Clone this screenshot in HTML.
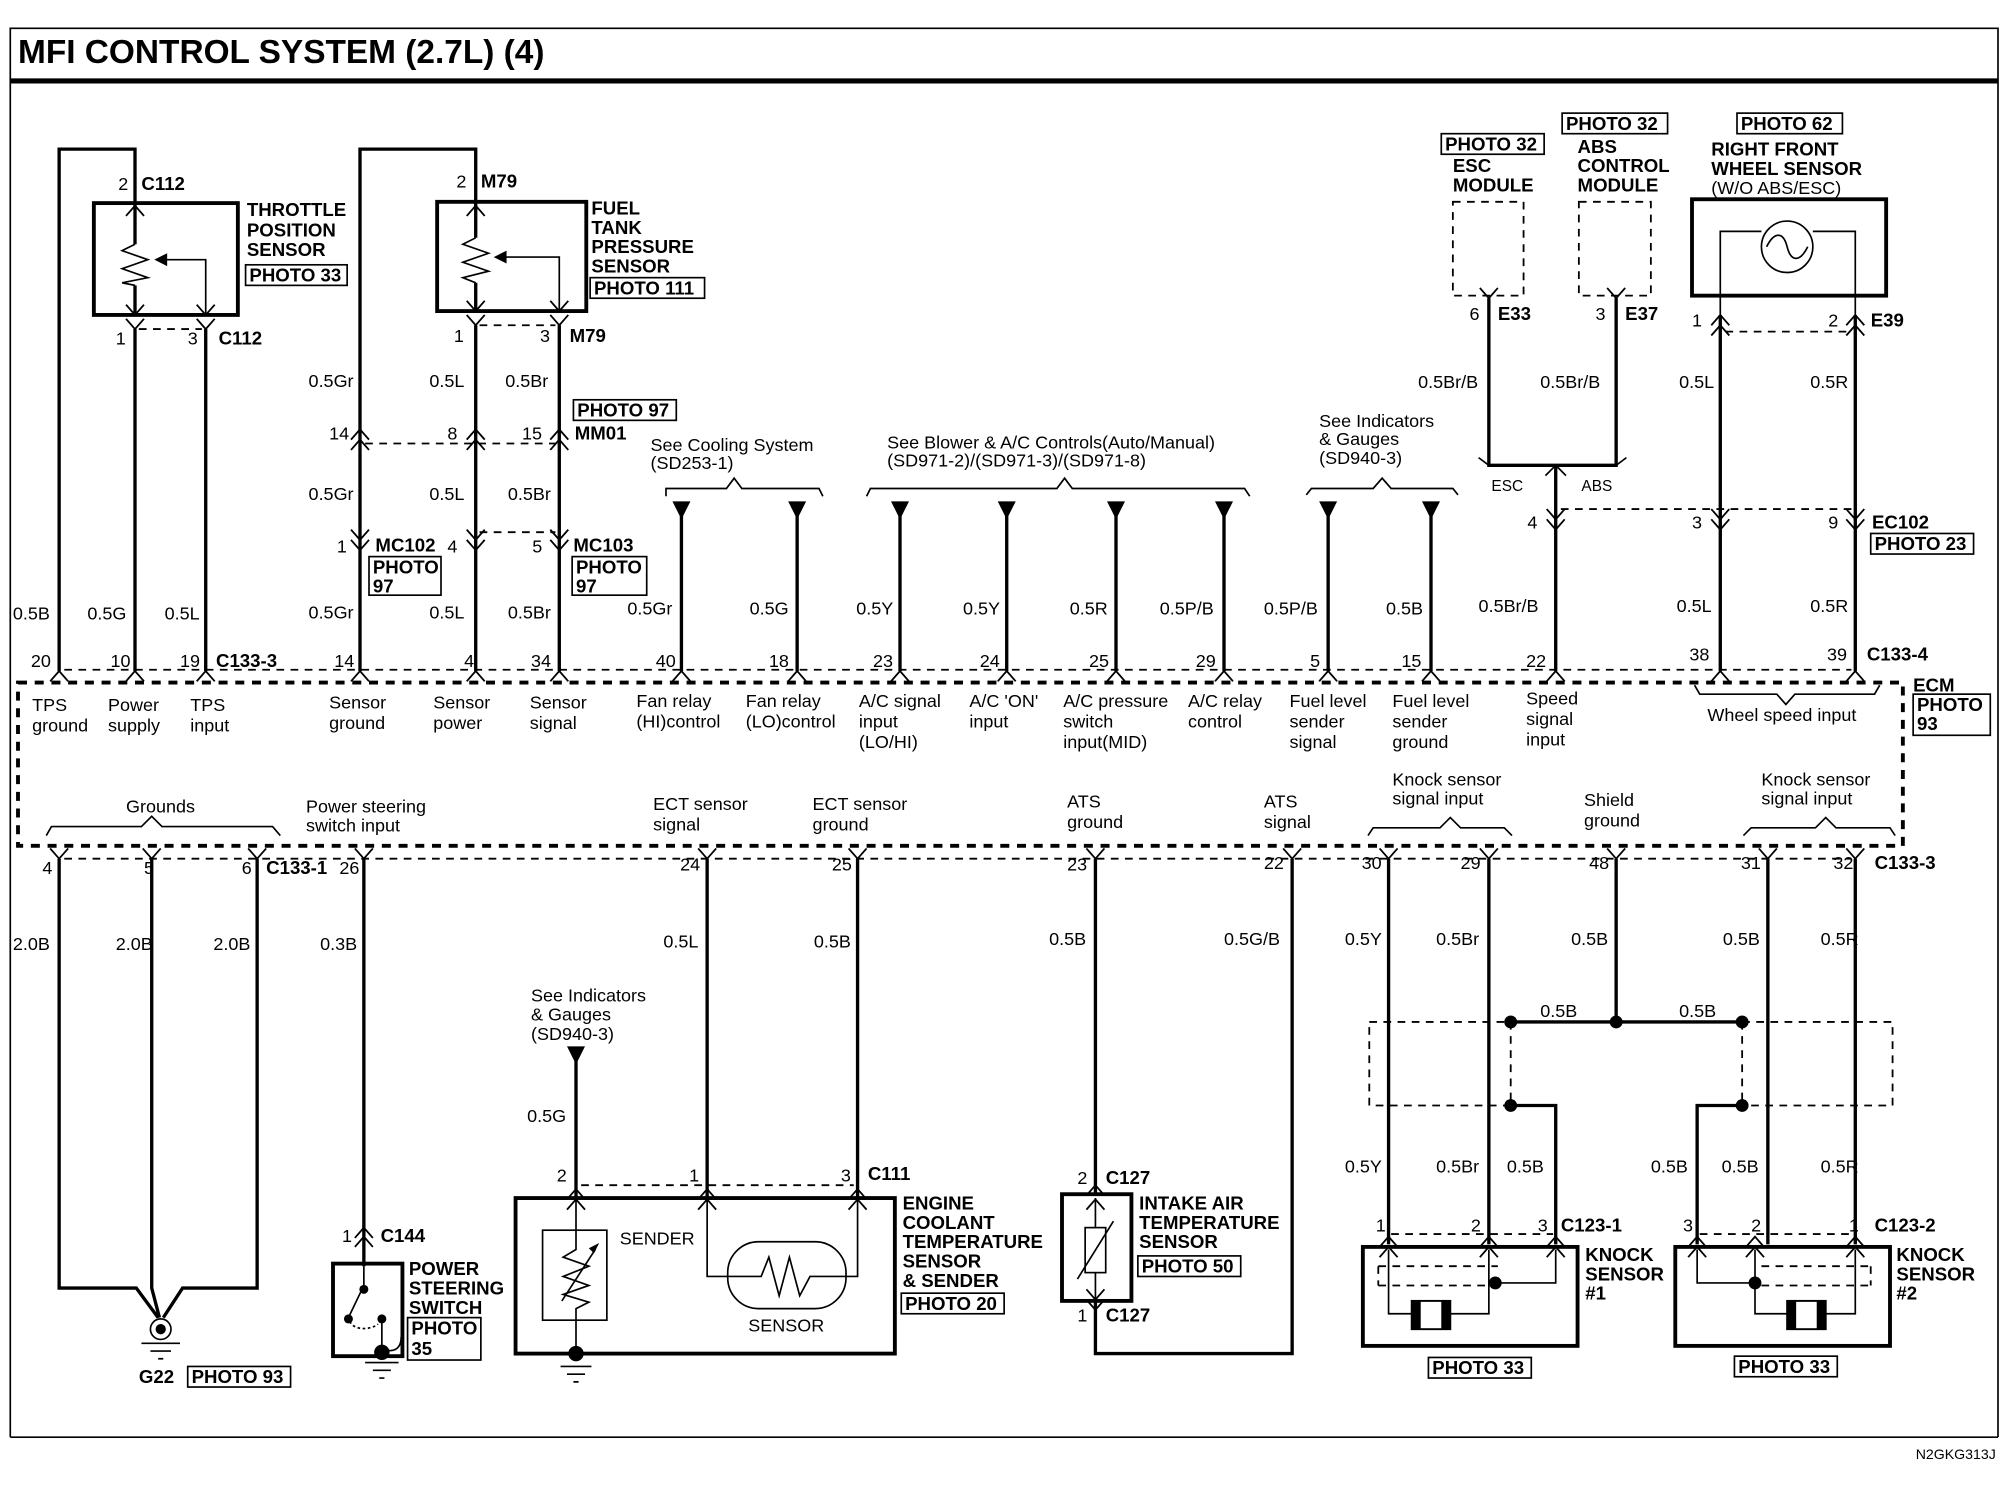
<!DOCTYPE html>
<html><head><meta charset="utf-8"><style>
html,body{margin:0;padding:0;background:#fff}
svg{display:block}
text{font-family:"Liberation Sans Narrow","Liberation Sans",sans-serif;font-size:14px;fill:#000}
.b{font-family:"Liberation Sans",sans-serif;font-weight:bold;font-size:14.5px}
.w{stroke:#000;stroke-width:2.6;fill:none}
.t{stroke:#000;stroke-width:1.3;fill:none}
.d{stroke:#000;stroke-width:1.4;fill:none;stroke-dasharray:6 5}
.dd{stroke:#000;stroke-width:3;fill:none;stroke-dasharray:7 6}
.bx{stroke:#000;stroke-width:3;fill:none}
.pb{stroke:#000;stroke-width:1.3;fill:#fff}
</style></head><body>
<svg width="2016" height="1504" viewBox="0 0 1568 1170" preserveAspectRatio="none" xmlns="http://www.w3.org/2000/svg">
<defs>
<path id="up" d="M-7,8 L0,0 L7,8" stroke="#000" stroke-width="1.4" fill="none"/>
<path id="dn" d="M-7,-8 L0,0 L7,-8" stroke="#000" stroke-width="1.4" fill="none"/>
<path id="tri" d="M-7,0 L7,0 L0,14 Z" fill="#000"/>
</defs>
<!-- frame -->
<path d="M8,1118 L8,22 L1554,22 L1554,1118" class="t" stroke-width="1.6"/>
<line x1="8" y1="63" x2="1554" y2="63" stroke="#000" stroke-width="4"/>
<line x1="8" y1="1118" x2="1554" y2="1118" class="t"/>
<text x="14" y="49" style="font-family:'Liberation Sans',sans-serif;font-weight:bold;font-size:26px">MFI CONTROL SYSTEM (2.7L) (4)</text>
<text x="1490" y="1135" style="font-size:11px">N2GKG313J</text>

<!-- TPS -->
<path class="w" d="M46,522 L46,116 L105,116 L105,157"/>
<rect x="73" y="158" width="112" height="87" class="bx"/>
<text x="92" y="148">2</text><text x="110" y="148" class="b">C112</text>
<path class="w" d="M105,158 L105,190 M105,222 L105,245"/>
<path class="t" stroke-width="1.8" d="M105,190 L95,195 L115,202 L95,209 L115,216 L95,220 L105,222"/>
<path class="t" stroke-width="1.6" d="M160,245 L160,202 L128,202"/><path d="M120,202 L130,197 L130,207Z"/>
<use href="#up" x="105" y="160"/><use href="#dn" x="105" y="245"/><use href="#dn" x="160" y="245"/>
<use href="#dn" x="105" y="256"/><use href="#dn" x="160" y="256"/>
<path class="d" d="M108,256 L157,256"/>
<text x="90" y="268">1</text><text x="146" y="268">3</text><text x="170" y="268" class="b">C112</text>
<path class="w" d="M105,256 L105,522 M160,256 L160,522"/>
<text x="192" y="168" class="b">THROTTLE</text><text x="192" y="184" class="b">POSITION</text><text x="192" y="199" class="b">SENSOR</text>
<rect x="191" y="206" width="79" height="16" class="pb"/><text x="194" y="219" class="b">PHOTO 33</text>

<!-- FTPS -->
<path class="w" d="M280,522 L280,116 L370,116 L370,156"/>
<rect x="340" y="157" width="116" height="85" class="bx"/>
<text x="355" y="146">2</text><text x="374" y="146" class="b">M79</text>
<path class="w" d="M370,158 L370,185 M370,220 L370,242"/>
<path class="t" stroke-width="1.8" d="M370,185 L360,190 L380,197 L360,204 L380,211 L360,216 L370,220"/>
<path class="t" stroke-width="1.6" d="M435,242 L435,200 L392,200"/><path d="M384,200 L394,195 L394,205Z"/>
<use href="#up" x="370" y="160"/><use href="#dn" x="370" y="242"/><use href="#dn" x="435" y="242"/>
<use href="#dn" x="370" y="253"/><use href="#dn" x="435" y="253"/>
<path class="d" d="M373,253 L432,253"/>
<text x="353" y="266">1</text><text x="420" y="266">3</text><text x="443" y="266" class="b">M79</text>
<path class="w" d="M370,253 L370,522 M435,253 L435,522"/>
<text x="460" y="167" class="b">FUEL</text><text x="460" y="182" class="b">TANK</text><text x="460" y="197" class="b">PRESSURE</text><text x="460" y="212" class="b">SENSOR</text>
<rect x="459" y="216" width="89" height="16" class="pb"/><text x="462" y="229" class="b">PHOTO 111</text>
<text x="240" y="301">0.5Gr</text><text x="334" y="301">0.5L</text><text x="393" y="301">0.5Br</text>
<rect x="446" y="311" width="80" height="16" class="pb"/><text x="449" y="324" class="b">PHOTO 97</text>
<use href="#up" x="280" y="334"/><use href="#up" x="370" y="334"/><use href="#up" x="435" y="334"/>
<use href="#up" x="280" y="342"/><use href="#up" x="370" y="342"/><use href="#up" x="435" y="342"/>
<path class="d" d="M284,345 L432,345"/>
<text x="256" y="342">14</text><text x="348" y="342">8</text><text x="406" y="342">15</text><text x="447" y="342" class="b">MM01</text>
<text x="240" y="389">0.5Gr</text><text x="334" y="389">0.5L</text><text x="395" y="389">0.5Br</text>
<use href="#dn" x="280" y="420"/><use href="#dn" x="370" y="420"/><use href="#dn" x="435" y="420"/>
<use href="#dn" x="280" y="428"/><use href="#dn" x="370" y="428"/><use href="#dn" x="435" y="428"/>
<path class="d" d="M373,414 L432,414"/>
<text x="262" y="430">1</text><text x="292" y="429" class="b">MC102</text><text x="348" y="430">4</text>
<text x="414" y="430">5</text><text x="446" y="429" class="b">MC103</text>
<rect x="287" y="433" width="56" height="30" class="pb"/><text x="290" y="446" class="b">PHOTO</text><text x="290" y="461" class="b">97</text>
<rect x="445" y="433" width="58" height="30" class="pb"/><text x="448" y="446" class="b">PHOTO</text><text x="448" y="461" class="b">97</text>

<!-- middle wires top -->
<text x="506" y="351">See Cooling System</text><text x="506" y="365">(SD253-1)</text>
<path class="t" d="M518,386 L518,380 L565,380 L571,372 L577,380 L637,380 L640,386"/>
<text x="690" y="349">See Blower &amp; A/C Controls(Auto/Manual)</text><text x="690" y="363">(SD971-2)/(SD971-3)/(SD971-8)</text>
<path class="t" d="M674,386 L677,380 L822,380 L828,372 L834,380 L968,380 L972,386"/>
<text x="1026" y="332">See Indicators</text><text x="1026" y="346">&amp; Gauges</text><text x="1026" y="361">(SD940-3)</text>
<path class="t" d="M1016,385 L1020,380 L1068,380 L1075,372 L1082,380 L1130,380 L1134,385"/>
<g>
<use href="#tri" x="530" y="390"/><use href="#tri" x="620" y="390"/><use href="#tri" x="700" y="390"/><use href="#tri" x="783" y="390"/>
<use href="#tri" x="868" y="390"/><use href="#tri" x="952" y="390"/><use href="#tri" x="1033" y="390"/><use href="#tri" x="1113" y="390"/>
</g>
<path class="w" d="M530,392 V522 M620,392 V522 M700,392 V522 M783,392 V522 M868,392 V522 M952,392 V522 M1033,392 V522 M1113,392 V522"/>
<text x="488" y="478">0.5Gr</text><text x="583" y="478">0.5G</text><text x="666" y="478">0.5Y</text><text x="749" y="478">0.5Y</text>
<text x="832" y="478">0.5R</text><text x="902" y="478">0.5P/B</text><text x="983" y="478">0.5P/B</text><text x="1078" y="478">0.5B</text>

<!-- right top -->
<rect x="1121" y="104" width="80" height="16" class="pb"/><text x="1124" y="117" class="b">PHOTO 32</text>
<text x="1130" y="134" class="b">ESC</text><text x="1130" y="149" class="b">MODULE</text>
<rect x="1215" y="88" width="82" height="16" class="pb"/><text x="1218" y="101" class="b">PHOTO 32</text>
<text x="1227" y="119" class="b">ABS</text><text x="1227" y="134" class="b">CONTROL</text><text x="1227" y="149" class="b">MODULE</text>
<rect x="1351" y="88" width="82" height="16" class="pb"/><text x="1354" y="101" class="b">PHOTO 62</text>
<text x="1331" y="121" class="b">RIGHT FRONT</text><text x="1331" y="136" class="b">WHEEL SENSOR</text><text x="1331" y="151">(W/O ABS/ESC)</text>
<rect x="1130" y="157" width="55" height="73" class="d" stroke-width="2.4"/>
<rect x="1228" y="157" width="56" height="73" class="d" stroke-width="2.4"/>
<use href="#dn" x="1158" y="232"/><use href="#dn" x="1257" y="232"/>
<text x="1143" y="249">6</text><text x="1165" y="249" class="b">E33</text>
<text x="1241" y="249">3</text><text x="1264" y="249" class="b">E37</text>
<path class="w" d="M1158,232 V362 H1257 V232"/>
<path class="t" d="M1150,356 L1158,362 M1265,356 L1257,362 M1202,370 L1210,362 L1218,370"/>
<path class="w" d="M1210,362 V522"/>
<text x="1160" y="382" style="font-size:12px">ESC</text><text x="1230" y="382" style="font-size:12px">ABS</text>
<text x="1103" y="302">0.5Br/B</text><text x="1198" y="302">0.5Br/B</text>
<rect x="1316" y="155" width="151" height="75" class="bx"/>
<circle cx="1390" cy="192" r="20" class="t" stroke-width="2"/>
<path class="t" d="M1374,192 C1380,180 1387,180 1390,192 C1393,204 1400,204 1406,192"/>
<path class="t" stroke-width="1.8" d="M1338,248 V180 H1370 M1410,180 H1443 V248"/>
<use href="#up" x="1338" y="245"/><use href="#up" x="1443" y="245"/><use href="#up" x="1338" y="253"/><use href="#up" x="1443" y="253"/>
<path class="d" d="M1342,258 L1440,258"/>
<text x="1316" y="254">1</text><text x="1422" y="254">2</text><text x="1455" y="254" class="b">E39</text>
<path class="w" d="M1338,245 V522 M1443,245 V522"/>
<text x="1306" y="302">0.5L</text><text x="1408" y="302">0.5R</text>
<use href="#dn" x="1210" y="404"/><use href="#dn" x="1338" y="404"/><use href="#dn" x="1443" y="404"/>
<use href="#dn" x="1210" y="412"/><use href="#dn" x="1338" y="412"/><use href="#dn" x="1443" y="412"/>
<path class="d" d="M1214,396 L1440,396"/>
<text x="1188" y="411">4</text><text x="1316" y="411">3</text><text x="1422" y="411">9</text><text x="1456" y="411" class="b">EC102</text>
<rect x="1455" y="415" width="80" height="16" class="pb"/><text x="1458" y="428" class="b">PHOTO 23</text>
<text x="1150" y="476">0.5Br/B</text><text x="1304" y="476">0.5L</text><text x="1408" y="476">0.5R</text>

<!-- wires to ECM from left -->
<text x="10" y="482">0.5B</text><text x="68" y="482">0.5G</text><text x="128" y="482">0.5L</text>
<text x="240" y="481">0.5Gr</text><text x="334" y="481">0.5L</text><text x="395" y="481">0.5Br</text>

<!-- ECM top pins -->
<path class="d" d="M50,521 L1440,521"/>
<g>
<use href="#up" x="46" y="522"/><use href="#up" x="105" y="522"/><use href="#up" x="160" y="522"/><use href="#up" x="280" y="522"/><use href="#up" x="370" y="522"/><use href="#up" x="435" y="522"/>
<use href="#up" x="530" y="522"/><use href="#up" x="620" y="522"/><use href="#up" x="700" y="522"/><use href="#up" x="783" y="522"/><use href="#up" x="868" y="522"/><use href="#up" x="952" y="522"/>
<use href="#up" x="1033" y="522"/><use href="#up" x="1113" y="522"/><use href="#up" x="1210" y="522"/><use href="#up" x="1338" y="522"/><use href="#up" x="1443" y="522"/>
</g>
<text x="24" y="519">20</text><text x="86" y="519">10</text><text x="140" y="519">19</text><text x="168" y="519" class="b">C133-3</text>
<text x="260" y="519">14</text><text x="361" y="519">4</text><text x="413" y="519">34</text><text x="510" y="519">40</text>
<text x="598" y="519">18</text><text x="679" y="519">23</text><text x="762" y="519">24</text><text x="847" y="519">25</text>
<text x="930" y="519">29</text><text x="1019" y="519">5</text><text x="1090" y="519">15</text><text x="1187" y="519">22</text>
<text x="1314" y="514">38</text><text x="1421" y="514">39</text><text x="1452" y="514" class="b">C133-4</text>

<!-- ECM box -->
<path class="dd" d="M14,531 H1480 V658 H14 Z"/>
<text x="1488" y="538" class="b">ECM</text>
<rect x="1488" y="540" width="60" height="32" class="pb"/><text x="1491" y="553" class="b">PHOTO</text><text x="1491" y="568" class="b">93</text>
<g>
<text x="25" y="553">TPS</text><text x="25" y="569">ground</text>
<text x="84" y="553">Power</text><text x="84" y="569">supply</text>
<text x="148" y="553">TPS</text><text x="148" y="569">input</text>
<text x="256" y="551">Sensor</text><text x="256" y="567">ground</text>
<text x="337" y="551">Sensor</text><text x="337" y="567">power</text>
<text x="412" y="551">Sensor</text><text x="412" y="567">signal</text>
<text x="495" y="550">Fan relay</text><text x="495" y="566">(HI)control</text>
<text x="580" y="550">Fan relay</text><text x="580" y="566">(LO)control</text>
<text x="668" y="550">A/C signal</text><text x="668" y="566">input</text><text x="668" y="582">(LO/HI)</text>
<text x="754" y="550">A/C 'ON'</text><text x="754" y="566">input</text>
<text x="827" y="550">A/C pressure</text><text x="827" y="566">switch</text><text x="827" y="582">input(MID)</text>
<text x="924" y="550">A/C relay</text><text x="924" y="566">control</text>
<text x="1003" y="550">Fuel level</text><text x="1003" y="566">sender</text><text x="1003" y="582">signal</text>
<text x="1083" y="550">Fuel level</text><text x="1083" y="566">sender</text><text x="1083" y="582">ground</text>
<text x="1187" y="548">Speed</text><text x="1187" y="564">signal</text><text x="1187" y="580">input</text>
<path class="t" d="M1318,533 L1322,540 L1382,540 L1389,548 L1396,540 L1458,540 L1462,533"/>
<text x="1328" y="561">Wheel speed input</text>
<text x="98" y="632">Grounds</text>
<path class="t" d="M36,650 L40,643 L110,643 L118,635 L126,643 L212,643 L218,650"/>
<text x="238" y="632">Power steering</text><text x="238" y="647">switch input</text>
<text x="508" y="630">ECT sensor</text><text x="508" y="646">signal</text>
<text x="632" y="630">ECT sensor</text><text x="632" y="646">ground</text>
<text x="830" y="628">ATS</text><text x="830" y="644">ground</text>
<text x="983" y="628">ATS</text><text x="983" y="644">signal</text>
<text x="1083" y="611">Knock sensor</text><text x="1083" y="626">signal input</text>
<path class="t" d="M1064,650 L1068,644 L1120,644 L1128,636 L1136,644 L1170,644 L1176,650"/>
<text x="1232" y="627">Shield</text><text x="1232" y="643">ground</text>
<text x="1370" y="611">Knock sensor</text><text x="1370" y="626">signal input</text>
<path class="t" d="M1356,650 L1362,644 L1412,644 L1420,636 L1428,644 L1470,644 L1474,650"/>
</g>

<!-- ECM bottom pins -->
<path class="d" d="M50,668 L1440,668"/>
<g>
<use href="#dn" x="46" y="668"/><use href="#dn" x="118" y="668"/><use href="#dn" x="200" y="668"/><use href="#dn" x="283" y="668"/>
<use href="#dn" x="550" y="668"/><use href="#dn" x="667" y="668"/><use href="#dn" x="852" y="668"/><use href="#dn" x="1005" y="668"/>
<use href="#dn" x="1080" y="668"/><use href="#dn" x="1158" y="668"/><use href="#dn" x="1257" y="668"/><use href="#dn" x="1375" y="668"/><use href="#dn" x="1443" y="668"/>
</g>
<text x="33" y="680">4</text><text x="112" y="680">5</text><text x="188" y="680">6</text><text x="207" y="680" class="b">C133-1</text><text x="264" y="680">26</text>
<text x="529" y="677">24</text><text x="647" y="677">25</text><text x="830" y="677">23</text><text x="983" y="676">22</text>
<text x="1059" y="676">30</text><text x="1136" y="676">29</text><text x="1236" y="676">48</text><text x="1354" y="676">31</text>
<text x="1426" y="676">32</text><text x="1458" y="676" class="b">C133-3</text>

<!-- grounds -->
<path class="w" d="M46,668 V1002 H106 L123,1025 M200,668 V1002 H142 L127,1025 M118,668 V1002 L124,1025"/>
<circle cx="125" cy="1034" r="8" class="t" stroke-width="2.6"/><circle cx="125" cy="1034" r="4"/>
<path class="t" stroke-width="2" d="M110,1045 H140 M117,1051 H133 M123,1057 H127"/>
<text x="108" y="1076" class="b">G22</text>
<rect x="146" y="1063" width="80" height="16" class="pb"/><text x="149" y="1076" class="b">PHOTO 93</text>
<text x="10" y="739">2.0B</text><text x="90" y="739">2.0B</text><text x="166" y="739">2.0B</text><text x="249" y="739">0.3B</text>

<!-- power steering -->
<path class="w" d="M283,668 V985"/>
<use href="#up" x="283" y="955"/><use href="#up" x="283" y="962"/>
<text x="266" y="966">1</text><text x="296" y="966" class="b">C144</text>
<rect x="259" y="983" width="54" height="72" class="bx"/>
<path class="t" stroke-width="1.6" d="M283,985 V1000 L272,1023"/>
<circle cx="283" cy="1003" r="3.5"/><circle cx="271" cy="1026" r="3.5"/><circle cx="297" cy="1026" r="3.5"/>
<path class="t" stroke-dasharray="2 2" d="M272,1028 C276,1036 290,1034 294,1030"/>
<path class="t" stroke-width="1.6" d="M297,1026 V1050 M297,1050 C306,1052 312,1050 312,1040"/>
<circle cx="297" cy="1052" r="6"/>
<path class="t" stroke-width="2" d="M284,1060 H310 M290,1066 H304 M295,1072 H299"/>
<text x="318" y="992" class="b">POWER</text><text x="318" y="1007" class="b">STEERING</text><text x="318" y="1022" class="b">SWITCH</text>
<rect x="317" y="1025" width="57" height="33" class="pb"/><text x="320" y="1038" class="b">PHOTO</text><text x="320" y="1054" class="b">35</text>

<!-- ECT -->
<text x="413" y="779">See Indicators</text><text x="413" y="794">&amp; Gauges</text><text x="413" y="809">(SD940-3)</text>
<use href="#tri" x="448" y="814"/>
<path class="w" d="M448,816 V932 M550,668 V932 M667,668 V932"/>
<text x="410" y="873">0.5G</text><text x="516" y="737">0.5L</text><text x="633" y="737">0.5B</text>
<path class="d" d="M452,922 L664,922"/>
<text x="433" y="919">2</text><text x="536" y="919">1</text><text x="654" y="919">3</text><text x="675" y="918" class="b">C111</text>
<rect x="401" y="932" width="295" height="121" class="bx"/>
<use href="#up" x="448" y="925"/><use href="#up" x="550" y="925"/><use href="#up" x="667" y="925"/>
<use href="#up" x="448" y="933"/><use href="#up" x="550" y="933"/><use href="#up" x="667" y="933"/>
<rect x="422" y="957" width="50" height="70" class="t"/>
<path class="t" stroke-width="1.6" d="M448,933 V972 L438,978 L458,985 L438,993 L458,1000 L438,1007 L458,1013 L448,1018 V1027 M448,1027 V1050"/>
<path class="t" stroke-width="1.4" d="M437,1012 L463,972"/><path d="M466,967 L458,971 L462,975Z"/>
<circle cx="448" cy="1053" r="6"/>
<path class="t" stroke-width="2" d="M436,1063 H460 M441,1069 H455 M446,1075 H450"/>
<text x="482" y="968" style="font-family:'Liberation Sans',sans-serif">SENDER</text>
<path class="t" stroke-width="1.6" d="M550,933 V993 H592 L598,978 L606,1008 L614,978 L622,1008 L630,993 H667 V933"/>
<rect x="566" y="966" width="92" height="52" rx="24" class="t" stroke-width="1.6"/>
<text x="582" y="1036" style="font-family:'Liberation Sans',sans-serif">SENSOR</text>
<text x="702" y="941" class="b">ENGINE</text><text x="702" y="956" class="b">COOLANT</text><text x="702" y="971" class="b">TEMPERATURE</text>
<text x="702" y="986" class="b">SENSOR</text><text x="702" y="1001" class="b">&amp; SENDER</text>
<rect x="701" y="1006" width="80" height="16" class="pb"/><text x="704" y="1019" class="b">PHOTO 20</text>

<!-- IAT -->
<path class="w" d="M852,668 V928"/>
<text x="816" y="735">0.5B</text><text x="952" y="735">0.5G/B</text>
<use href="#up" x="852" y="922"/><text x="838" y="921">2</text><text x="860" y="921" class="b">C127</text>
<rect x="826" y="929" width="54" height="83" class="bx"/>
<path class="t" stroke-width="1.4" d="M852,932 V955 M852,990 V1012"/>
<rect x="844" y="955" width="16" height="35" class="t"/>
<path class="t" d="M838,995 L866,950"/>
<use href="#up" x="852" y="933"/><use href="#dn" x="852" y="1011"/><use href="#dn" x="852" y="1019"/>
<text x="838" y="1028">1</text><text x="860" y="1028" class="b">C127</text>
<path class="w" d="M852,1012 V1053 H1005 V668"/>
<text x="886" y="941" class="b">INTAKE AIR</text><text x="886" y="956" class="b">TEMPERATURE</text><text x="886" y="971" class="b">SENSOR</text>
<rect x="885" y="977" width="80" height="16" class="pb"/><text x="888" y="990" class="b">PHOTO 50</text>

<!-- knock sensors -->
<path class="w" d="M1080,668 V968 M1158,668 V968 M1257,668 V795 M1375,668 V968 M1443,668 V968"/>
<text x="1046" y="735">0.5Y</text><text x="1117" y="735">0.5Br</text><text x="1222" y="735">0.5B</text>
<text x="1340" y="735">0.5B</text><text x="1416" y="735">0.5R</text>
<path class="w" d="M1175,795 H1355"/>
<circle cx="1175" cy="795" r="5"/><circle cx="1257" cy="795" r="5"/><circle cx="1355" cy="795" r="5"/>
<text x="1198" y="791">0.5B</text><text x="1306" y="791">0.5B</text>
<path class="d" d="M1065,795 H1175 M1355,795 H1472 V860 H1355 M1175,860 H1065 V795 M1175,795 V860 M1355,795 V860"/>
<path class="w" d="M1175,860 H1210 V968 M1355,860 H1320 V968"/>
<circle cx="1175" cy="860" r="5"/><circle cx="1355" cy="860" r="5"/>
<text x="1046" y="912">0.5Y</text><text x="1117" y="912">0.5Br</text><text x="1172" y="912">0.5B</text>
<text x="1284" y="912">0.5B</text><text x="1339" y="912">0.5B</text><text x="1416" y="912">0.5R</text>
<text x="1070" y="958">1</text><text x="1144" y="958">2</text><text x="1196" y="958">3</text><text x="1214" y="958" class="b">C123-1</text>
<text x="1309" y="958">3</text><text x="1362" y="958">2</text><text x="1438" y="958">1</text><text x="1458" y="958" class="b">C123-2</text>
<path class="d" d="M1082,960 H1208 M1322,960 H1441"/>
<rect x="1060" y="970" width="167" height="77" class="bx"/>
<rect x="1303" y="970" width="167" height="77" class="bx"/>
<g>
<use href="#up" x="1080" y="962"/><use href="#up" x="1158" y="962"/><use href="#up" x="1210" y="962"/>
<use href="#up" x="1080" y="970"/><use href="#up" x="1158" y="970"/><use href="#up" x="1210" y="970"/>
<use href="#up" x="1320" y="962"/><use href="#up" x="1365" y="962"/><use href="#up" x="1443" y="962"/>
<use href="#up" x="1320" y="970"/><use href="#up" x="1365" y="970"/><use href="#up" x="1443" y="970"/>
</g>
<path class="t" stroke-width="1.6" d="M1080,972 V1022 H1098 M1128,1022 H1158 V972 M1210,972 V998 H1165"/>
<rect x="1098" y="1012" width="30" height="22" fill="#fff" stroke="#000" stroke-width="1.5"/>
<rect x="1098" y="1012" width="7" height="22"/><rect x="1121" y="1012" width="7" height="22"/>
<circle cx="1163" cy="998" r="5"/>
<path class="d" d="M1072,985 H1165 M1072,1000 H1158 M1072,985 V1000"/>
<path class="t" stroke-width="1.6" d="M1320,972 V998 H1365 M1365,972 V1022 H1390 M1420,1022 H1443 V972"/>
<rect x="1390" y="1012" width="30" height="22" fill="#fff" stroke="#000" stroke-width="1.5"/>
<rect x="1390" y="1012" width="7" height="22"/><rect x="1413" y="1012" width="7" height="22"/>
<circle cx="1365" cy="998" r="5"/>
<path class="d" d="M1370,985 H1455 M1370,1000 H1455 M1455,985 V1000"/>
<text x="1233" y="981" class="b">KNOCK</text><text x="1233" y="996" class="b">SENSOR</text><text x="1233" y="1011" class="b">#1</text>
<text x="1475" y="981" class="b">KNOCK</text><text x="1475" y="996" class="b">SENSOR</text><text x="1475" y="1011" class="b">#2</text>
<rect x="1111" y="1056" width="80" height="16" class="pb"/><text x="1114" y="1069" class="b">PHOTO 33</text>
<rect x="1349" y="1055" width="80" height="16" class="pb"/><text x="1352" y="1068" class="b">PHOTO 33</text>
</svg>
</body></html>
